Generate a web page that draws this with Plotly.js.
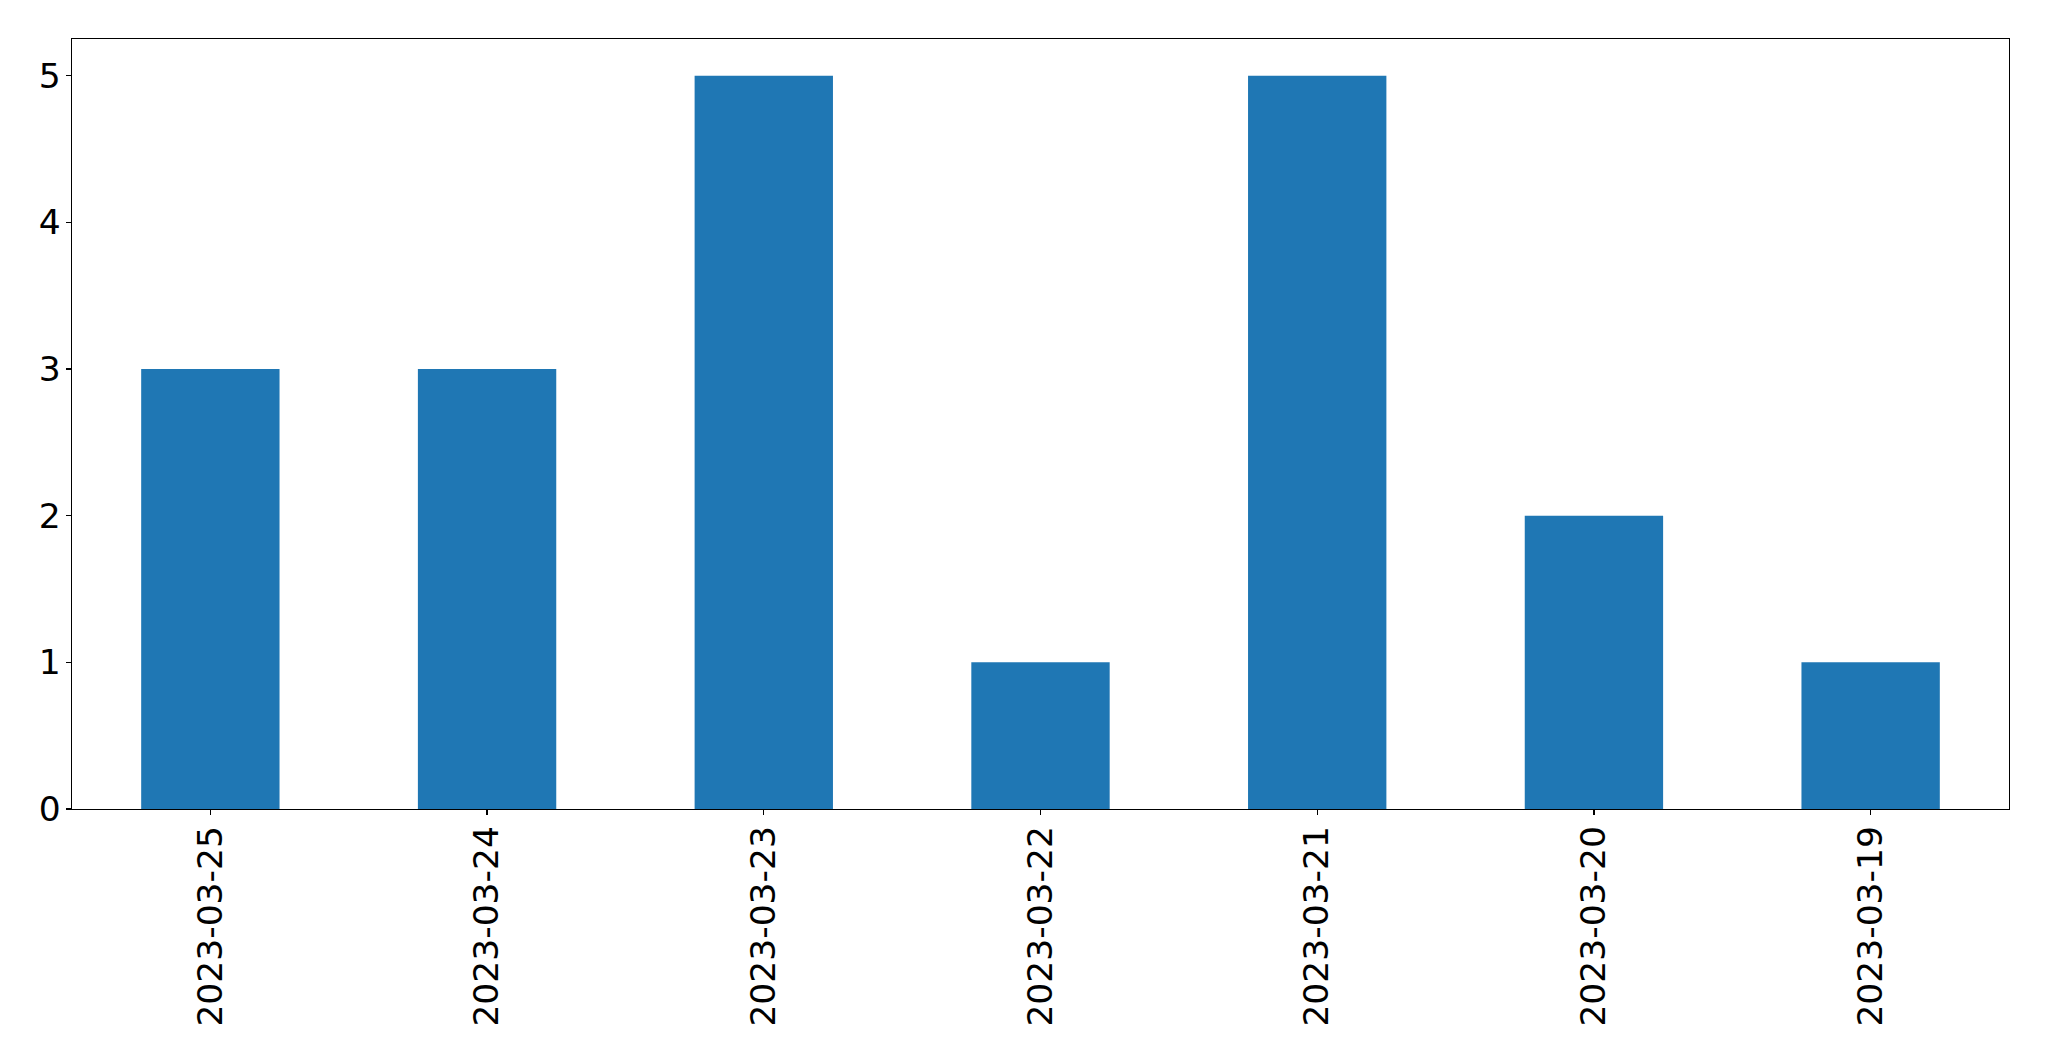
<!DOCTYPE html>
<html>
<head>
<meta charset="utf-8">
<script src="https://cdn.plot.ly/plotly-3.0.1.min.js"></script>
<style>html,body{margin:0;padding:0;background:#fff;}#chart{width:2049px;height:1061px;}</style>
</head>
<body>
<div id="chart"></div>
<script>
const categories = ["2023-03-25","2023-03-24","2023-03-23","2023-03-22","2023-03-21","2023-03-20","2023-03-19"];
const counts = [3, 3, 5, 1, 5, 2, 1];
const yTicks = [0, 1, 2, 3, 4, 5];

const font = {family: "DejaVu Sans, sans-serif", size: 34.5, color: "#000"};

Plotly.newPlot("chart", [{
  type: "bar",
  x: categories,
  y: counts,
  width: 0.5,
  marker: {color: "#1f77b4", line: {width: 0}},
  hoverinfo: "x+y"
}], {
  width: 2049, height: 1061,
  margin: {l: 72, r: 40, t: 39, b: 252, pad: 0},
  paper_bgcolor: "#fff", plot_bgcolor: "#fff",
  showlegend: false,
  font: font,
  xaxis: {
    type: "category",
    range: [-0.5, 6.5],
    tickangle: -90,
    ticks: "outside", ticklen: 5, tickwidth: 1.3, tickcolor: "#000",
    showline: true, linecolor: "#000", linewidth: 1.3, mirror: true,
    showgrid: false, zeroline: false,
    tickfont: font,
    ticklabelstandoff: -3
  },
  yaxis: {
    range: [0, 5.25],
    tickvals: yTicks,
    ticktext: yTicks.map(String),
    ticks: "outside", ticklen: 5, tickwidth: 1.3, tickcolor: "#000",
    showline: true, linecolor: "#000", linewidth: 1.3, mirror: true,
    showgrid: false, zeroline: false,
    tickfont: font,
    ticklabelstandoff: -2
  }
}, {displayModeBar: false, staticPlot: true});
</script>
</body>
</html>
